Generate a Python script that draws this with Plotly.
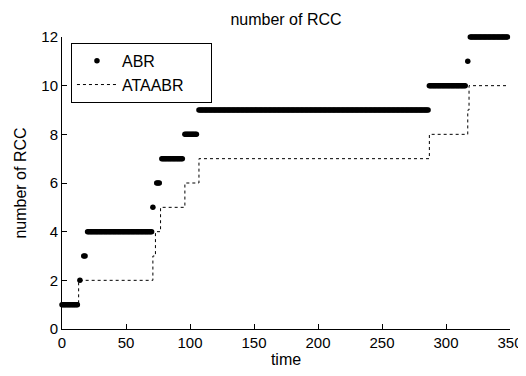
import numpy as np
import plotly.graph_objects as go

# ABR: runs of constant value (value, first time, last time)
abr_values = [1, 2, 3, 4, 5, 6, 7, 8, 9, 10, 11, 12]
abr_start = [0, 14, 17, 20, 71, 74, 78, 96, 107, 287, 317, 319]
abr_end = [12, 14, 18, 70, 71, 76, 94, 105, 286, 315, 317, 348]

# ATAABR: step breakpoints (time where value starts)
ata_times = [0, 13, 71, 73, 77, 96, 107, 287, 317, 318, 348]
ata_values = [1, 2, 3, 4, 5, 6, 7, 8, 9, 10, 10]

series_names = ["ABR", "ATAABR"]
x_ticks = [0, 50, 100, 150, 200, 250, 300, 350]
y_ticks = [0, 2, 4, 6, 8, 10, 12]

abr_t, abr_v = [], []
for v, s, e in zip(abr_values, abr_start, abr_end):
    for t in range(s, e + 1):
        abr_t.append(t)
        abr_v.append(v)

FONT = "Liberation Sans, Arial, sans-serif"
PAD = "\u00a0" * 5  # extra room at the right side of the legend box

fig = go.Figure()
fig.add_trace(go.Scatter(
    x=abr_t, y=abr_v, mode="markers", name=series_names[0] + PAD, cliponaxis=False,
    marker=dict(color="black", size=5.5, line=dict(width=0)),
))
fig.add_trace(go.Scatter(
    x=ata_times, y=ata_values, mode="lines", name=series_names[1] + PAD, cliponaxis=False,
    line=dict(color="black", width=1, dash="3px,3px", shape="hv"),
))

# The page body has an 8px default margin, so the figure is sized to fit
# the 526x376 window exactly with that offset.
fig.update_layout(
    width=518, height=368,
    margin=dict(l=54, r=16, t=29, b=47, autoexpand=False),
    paper_bgcolor="white", plot_bgcolor="white",
    font=dict(family=FONT, size=16, color="black"),
    title=dict(text="number of RCC", x=278 / 518, xanchor="center", y=0.970, yanchor="middle",
               font=dict(family=FONT, size=16, color="black")),
    showlegend=True,
    legend=dict(x=0.02, y=0.98, xanchor="left", yanchor="top",
                bordercolor="black", borderwidth=1, bgcolor="white",
                font=dict(family=FONT, size=16, color="black"),
                tracegroupgap=0, itemwidth=40),
    xaxis=dict(range=[0, 350], tickvals=x_ticks, ticktext=[str(v) for v in x_ticks],
               showgrid=False, zeroline=False, showline=True, linecolor="black", linewidth=1,
               ticks="inside", ticklen=5, tickcolor="black", mirror=False, automargin=False,
               title=dict(text="time", font=dict(family=FONT, size=16), standoff=3),
               tickfont=dict(family=FONT, size=15)),
    yaxis=dict(range=[0, 12], tickvals=y_ticks, ticktext=[str(v) for v in y_ticks],
               showgrid=False, zeroline=False, showline=True, linecolor="black", linewidth=1,
               ticks="inside", ticklen=5, tickcolor="black", mirror=False, automargin=False,
               title=dict(text="number of RCC", font=dict(family=FONT, size=16), standoff=10),
               tickfont=dict(family=FONT, size=15)),
)

fig.write_html("out.html")
